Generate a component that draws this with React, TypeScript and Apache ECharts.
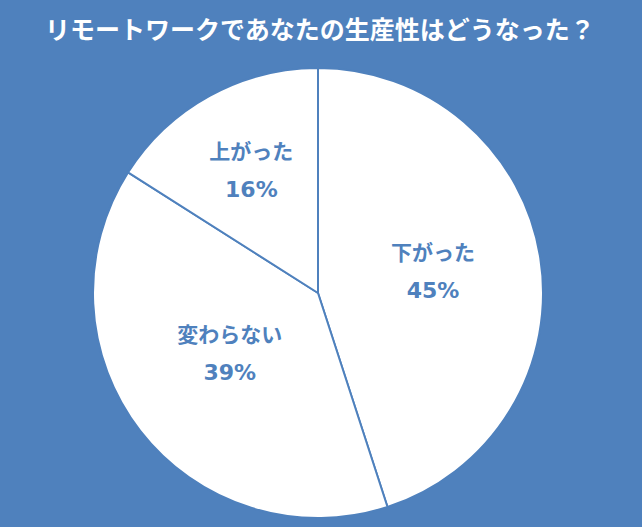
import React, { useEffect, useRef } from "react";
import * as echarts from "echarts";

const categories = ["下がった", "変わらない", "上がった"];
const values = [45, 39, 16];
const labelOffsets: [number, number][] = [[1, -4], [3, -11], [-11, -22]];

const BLUE = "#4F81BD";
const FONT = "'Noto Sans CJK JP', 'Noto Sans', sans-serif";
const NUM_FONT = "'DejaVu Sans', 'Noto Sans CJK JP', sans-serif";

export default function App() {
  const ref = useRef<HTMLDivElement>(null);
  useEffect(() => {
    if (!ref.current) return;
    const chart = echarts.init(ref.current, null, { renderer: "svg" });
    chart.setOption({
      animation: false,
      backgroundColor: BLUE,
      title: {
        text: "リモートワークであなたの生産性はどうなった？",
        left: 40,
        top: 10,
        textStyle: { color: "#fff", fontSize: 25, fontWeight: "bold", fontFamily: FONT },
      },
      series: [
        {
          type: "pie",
          center: [318, 293],
          radius: [0, 225],
          startAngle: 90,
          clockwise: true,
          itemStyle: { color: "#fff", borderColor: BLUE, borderWidth: 2 },
          label: {
            show: true,
            position: "inside",
            formatter: "{n|{b}}\n{p|{d}%}",
            color: BLUE,
            fontWeight: "bold",
            rich: {
              n: { fontSize: 21, fontWeight: "bold", color: BLUE, fontFamily: FONT, lineHeight: 40 },
              p: { fontSize: 22, fontWeight: "bold", color: BLUE, fontFamily: NUM_FONT, lineHeight: 40 },
            },
          },
          labelLine: { show: false },
          emphasis: { disabled: true },
          data: categories.map((name, i) => ({
            name,
            value: values[i],
            label: { offset: labelOffsets[i] },
          })),
        },
      ],
    });
    return () => chart.dispose();
  }, []);
  return (
    <div
      ref={ref}
      style={{ position: "absolute", left: 0, top: 0, width: 642, height: 527 }}
    />
  );
}
